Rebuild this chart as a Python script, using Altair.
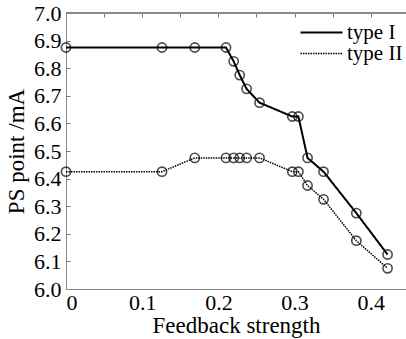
import altair as alt
import pandas as pd

feedback = [0, 0.126, 0.169, 0.210, 0.220, 0.228, 0.237, 0.254, 0.297, 0.305, 0.317, 0.338, 0.381, 0.422]
type_I = [6.875, 6.875, 6.875, 6.875, 6.825, 6.775, 6.725, 6.675, 6.625, 6.625, 6.475, 6.425, 6.275, 6.125]
type_II = [6.425, 6.425, 6.475, 6.475, 6.475, 6.475, 6.475, 6.475, 6.425, 6.425, 6.375, 6.325, 6.175, 6.075]
series_names = ["type I", "type II"]
x_ticks = [0, 0.05, 0.1, 0.15, 0.2, 0.25, 0.3, 0.35, 0.4]
y_ticks = [6.0, 6.1, 6.2, 6.3, 6.4, 6.5, 6.6, 6.7, 6.8, 6.9, 7.0]

rows = []
for name, vals in zip(series_names, [type_I, type_II]):
    for x, y in zip(feedback, vals):
        rows.append({"fb": x, "ps": y, "series": name})
df = pd.DataFrame(rows)

FONT = "Liberation Serif"

xenc = alt.X(
    "fb:Q",
    scale=alt.Scale(domain=[0, 0.4462], nice=False, zero=False),
    axis=alt.Axis(
        title="Feedback strength",
        values=x_ticks,
        tickCount=30,
        labelExpr="round(datum.value*100) % 10 == 0 ? (datum.value == 0 ? '0' : format(datum.value, '.1f')) : ''",
        ticks=False,
        grid=True,
        gridDash=[4, 2000],
        gridColor="#777",
        gridOpacity=1,
        domainColor="#888",
        labelOverlap=False,
        labelPadding=3,
        titlePadding=1,
    ),
)
yenc = alt.Y(
    "ps:Q",
    scale=alt.Scale(domain=[6.0, 7.0], nice=False, zero=False),
    axis=alt.Axis(
        title="PS point /mA",
        values=y_ticks,
        tickCount=30,
        format=".1f",
        ticks=False,
        grid=True,
        gridDash=[4, 2000],
        gridColor="#777",
        gridOpacity=1,
        domainColor="#888",
        labelOverlap=False,
        labelSeparation=0,
        labelPadding=5,
        titlePadding=5,
    ),
)

base = alt.Chart(df)

lines = base.mark_line(color="black").encode(
    x=xenc,
    y=yenc,
    strokeDash=alt.StrokeDash(
        "series:N",
        scale=alt.Scale(domain=series_names, range=[[1, 0], [1.5, 1]]),
        legend=alt.Legend(
            title=None,
            orient="none",
            legendX=245,
            legendY=9,
            symbolType="M-3,0H3",
            symbolSize=196,
            symbolStrokeColor="black",
            symbolFillColor="transparent",
            symbolStrokeWidth=2,
            labelFontSize=21,
            labelFont=FONT,
            labelColor="black",
            rowPadding=-6,
            labelOffset=15,
        ),
    ),
    strokeWidth=alt.StrokeWidth(
        "series:N",
        scale=alt.Scale(domain=series_names, range=[2, 1.5]),
        legend=None,
    ),
)

points = base.mark_point(
    shape="circle", filled=False, color="black", size=85, strokeWidth=1.6
).encode(x=xenc, y=yenc, detail="series:N")

top = base.mark_rule(color="#888", strokeWidth=1).encode(y=alt.datum(7.0))

chart = (
    alt.layer(lines, points, top)
    .properties(
        width=340,
        height=276,
        autosize=alt.AutoSizeParams(type="none"),
        padding={"left": 66, "top": 13, "right": 0, "bottom": 50},
        background="white",
    )
    .configure_view(stroke=None)
    .configure_axis(
        labelFont=FONT,
        titleFont=FONT,
        labelFontSize=22,
        titleFontSize=23,
        titleFontWeight="normal",
        labelColor="black",
        titleColor="black",
        labelOverlap=False,
    )
)

chart.save("out.html", embed_options={"renderer": "svg", "actions": False})
